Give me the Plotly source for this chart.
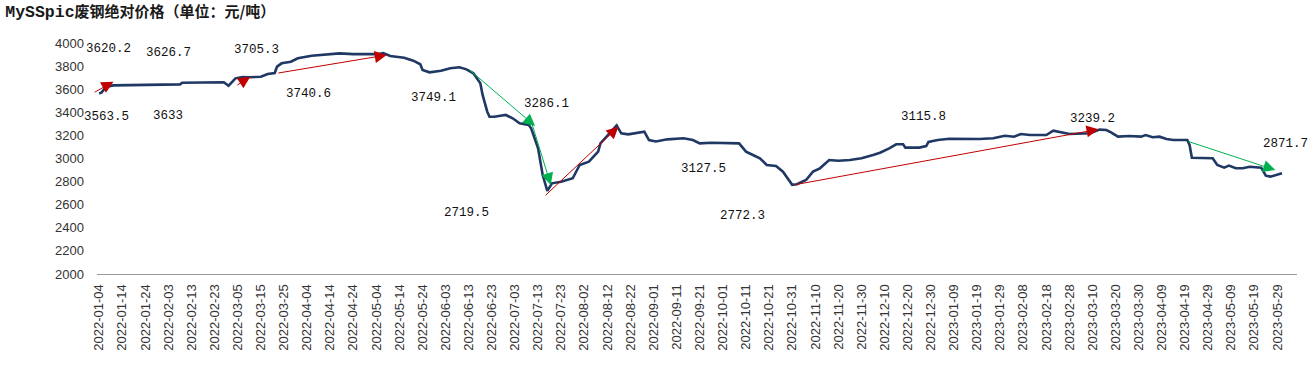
import plotly.graph_objects as go

dates = [
    "2022-01-04", "2022-01-05", "2022-01-07", "2022-01-10", "2022-02-08", "2022-02-09",
    "2022-02-27", "2022-03-01", "2022-03-02", "2022-03-04", "2022-03-07", "2022-03-10",
    "2022-03-15", "2022-03-18", "2022-03-21", "2022-03-22", "2022-03-24", "2022-03-28",
    "2022-03-31", "2022-04-06", "2022-04-18", "2022-04-24", "2022-05-05", "2022-05-07",
    "2022-05-10", "2022-05-16", "2022-05-20", "2022-05-23", "2022-05-24", "2022-05-27",
    "2022-06-01", "2022-06-05", "2022-06-09", "2022-06-12", "2022-06-15", "2022-06-18",
    "2022-06-19", "2022-06-21", "2022-06-22", "2022-06-24", "2022-06-29", "2022-07-02",
    "2022-07-05", "2022-07-09", "2022-07-10", "2022-07-13", "2022-07-15", "2022-07-17",
    "2022-07-19", "2022-07-23", "2022-07-28", "2022-07-31", "2022-08-04", "2022-08-08",
    "2022-08-09", "2022-08-13", "2022-08-16", "2022-08-18", "2022-08-21", "2022-08-28",
    "2022-08-30", "2022-09-02", "2022-09-07", "2022-09-14", "2022-09-18", "2022-09-21",
    "2022-09-26", "2022-10-08", "2022-10-11", "2022-10-14", "2022-10-17", "2022-10-20",
    "2022-10-24", "2022-10-27", "2022-10-31", "2022-11-02", "2022-11-06", "2022-11-09",
    "2022-11-12", "2022-11-16", "2022-11-20", "2022-11-25", "2022-11-30", "2022-12-05",
    "2022-12-08", "2022-12-12", "2022-12-15", "2022-12-18", "2022-12-19", "2022-12-25",
    "2022-12-28", "2022-12-29", "2023-01-02", "2023-01-07", "2023-01-20", "2023-01-26",
    "2023-01-31", "2023-02-04", "2023-02-07", "2023-02-11", "2023-02-18", "2023-02-21",
    "2023-02-24", "2023-02-28", "2023-03-09", "2023-03-13", "2023-03-16", "2023-03-18",
    "2023-03-21", "2023-03-26", "2023-03-31", "2023-04-02", "2023-04-05", "2023-04-08",
    "2023-04-11", "2023-04-14", "2023-04-20", "2023-04-21", "2023-04-22", "2023-05-01",
    "2023-05-03", "2023-05-06", "2023-05-08", "2023-05-11", "2023-05-14", "2023-05-17",
    "2023-05-22", "2023-05-24", "2023-05-26", "2023-05-29", "2023-05-31",
]
prices = [
    3563.5, 3570, 3620.2, 3633, 3642, 3656,
    3660, 3630, 3651, 3694, 3705.3, 3703,
    3708, 3732, 3740.6, 3795, 3824, 3838,
    3868, 3890, 3910, 3904, 3904, 3912.3,
    3887, 3873, 3847, 3816, 3766, 3746,
    3760, 3781, 3789.8, 3772, 3738, 3651,
    3550, 3405, 3362, 3362, 3377, 3348,
    3305, 3290, 3262, 3088, 2857, 2719.5,
    2785, 2799, 2829, 2944, 2972, 3059,
    3131, 3218, 3286.1, 3218, 3209, 3232,
    3160, 3147, 3166, 3175, 3160, 3131,
    3137, 3131, 3059, 3030, 3002, 2944,
    2935, 2886, 2772.3, 2777, 2814, 2886,
    2915, 2987, 2981, 2987, 3002, 3030,
    3050, 3088, 3123, 3123, 3094, 3094,
    3108, 3143, 3160, 3171, 3169, 3175,
    3197, 3189, 3212, 3203, 3203, 3241,
    3227, 3212, 3218, 3250, 3247, 3227,
    3189, 3195, 3189, 3203, 3184, 3189,
    3169, 3160, 3160, 3117, 3007, 3002,
    2944, 2921, 2938, 2915, 2915, 2929,
    2921, 2851, 2843, 2863, 2871.7,
]

label_texts = ["3620.2", "3563.5", "3626.7", "3633", "3705.3", "3740.6", "3912.3", "3749.1",
               "3789.8", "3286.1", "2719.5", "3127.5", "2772.3", "3115.8", "3239.2", "2871.7"]
label_dates = ["2022-01-08", "2022-01-07", "2022-02-03", "2022-02-03", "2022-03-13",
               "2022-04-04 12:00", "2022-05-23", "2022-05-28 14:00", "2022-06-27 12:00",
               "2022-07-16 12:00", "2022-06-12", "2022-09-22 12:00", "2022-10-09 10:00",
               "2022-12-26 17:00", "2023-03-10", "2023-06-01 10:00"]
label_values = [3948, 3359, 3913, 3368, 3939, 3558, 4087, 3524,
                4035, 3472, 2528, 2909, 2502, 3359, 3342, 3126]

arrow_from_dates = ["2022-01-01 10:00", "2022-03-04 05:00", "2022-03-21 22:00", "2022-06-12 12:00",
                    "2022-07-10 07:00", "2022-07-15 14:00", "2022-10-31 14:00", "2023-04-19 22:00"]
arrow_from_values = [3567, 3628, 3738, 3781, 3305, 2669, 2771, 3151]
arrow_to_dates = ["2022-01-10 05:00", "2022-03-10 10:00", "2022-05-08 12:00", "2022-07-11 17:00",
                  "2022-07-18 12:00", "2022-08-16 19:00", "2023-03-12 14:00", "2023-05-28 02:00"]
arrow_to_values = [3665, 3708, 3896, 3281, 2771, 3275, 3253, 2900]
arrow_trend = ["up", "up", "up", "down", "down", "up", "up", "down"]

trend_colors = {"up": "#C00000", "down": "#00B050"}

fig = go.Figure()
fig.add_trace(go.Scatter(
    x=dates, y=prices, mode="lines",
    line=dict(color="#1F3864", width=2.6),
    hoverinfo="x+y", showlegend=False,
))

annotations = []
for fd, fv, td, tv, tr in zip(arrow_from_dates, arrow_from_values, arrow_to_dates,
                              arrow_to_values, arrow_trend):
    annotations.append(dict(
        x=td, y=tv, ax=fd, ay=fv, xref="x", yref="y", axref="x", ayref="y",
        text="", showarrow=True, arrowhead=2, arrowsize=2.4, arrowwidth=1,
        arrowcolor=trend_colors[tr], standoff=0, startstandoff=0,
    ))
for t, d, v in zip(label_texts, label_dates, label_values):
    annotations.append(dict(
        x=d, y=v, xref="x", yref="y", text=t, showarrow=False,
        font=dict(family="Liberation Mono, DejaVu Sans Mono, monospace", size=12.5, color="#111111"),
        xanchor="center", yanchor="middle",
    ))

fig.update_layout(
    width=1313, height=371,
    margin=dict(l=97, r=16, t=43, b=97),
    paper_bgcolor="white", plot_bgcolor="white",
    title=dict(
        text="<b><span style=\"font-family:'Liberation Mono';font-size:16.5px\">MySSpic</span>废钢绝对价格（单位：元/吨）</b>",
        x=0.004, xref="container", xanchor="left",
        y=1 - 12 / 371, yref="container", yanchor="middle",
        font=dict(family="Noto Sans CJK SC, sans-serif", size=15, color="#1a1a1a"),
    ),
    annotations=annotations,
    xaxis=dict(
        type="date",
        range=["2022-01-03 02:00", "2023-06-06 12:00"],
        tick0="2022-01-04", dtick=10 * 86400000,
        tickformat="%Y-%m-%d", tickangle=-90,
        tickfont=dict(family="Liberation Sans, Arial, sans-serif", size=13, color="#333333"),
        showline=True, linecolor="#999999", linewidth=1,
        showgrid=False, zeroline=False, ticks="",
        ticklabelstandoff=4,
    ),
    yaxis=dict(
        range=[2000, 4000], dtick=200, tick0=2000,
        tickfont=dict(family="Liberation Sans, Arial, sans-serif", size=13, color="#333333"),
        showline=False, showgrid=False, zeroline=False, ticks="",
        ticklabelstandoff=12,
    ),
)

fig.write_html("out.html", config={"displayModeBar": False},
               post_script="document.body.style.margin='0px';")
